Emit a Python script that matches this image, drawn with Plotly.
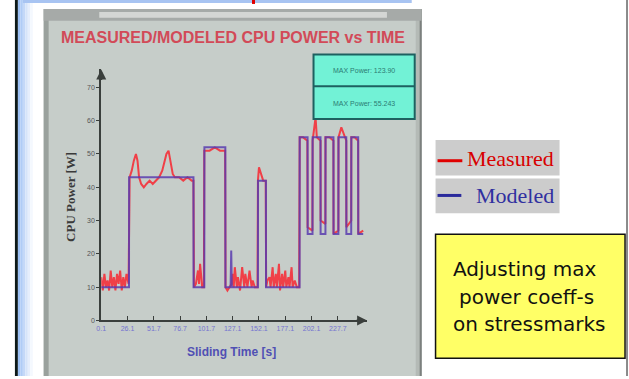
import plotly.graph_objects as go

W, H = 629, 379

# ---------------- data ----------------
measured_t = [0, 1.5, 3, 4.5, 6, 7.5, 9, 10.5, 12, 13.5, 15, 16.5, 18, 19.5, 21, 22.5, 24, 26,
              27, 29, 31, 33, 34.5, 36, 38, 40.5, 43, 46, 49, 52, 55, 58, 60, 62, 64, 66, 68, 70,
              74, 78, 82, 86, 87.7,
              88.2, 90, 92, 93, 94, 96, 97.6,
              98, 103, 108, 113, 117.8,
              118.2, 120, 122, 124, 125, 126, 127, 129, 130, 132, 134, 136, 137, 139, 141, 143, 144, 146, 148.6,
              149, 150, 151, 152.5, 154, 156.4,
              156.8, 158, 160, 161, 163, 164, 166, 167, 169, 170, 172, 173, 175, 176, 178, 179, 181, 182, 184, 186, 188.2,
              188.7, 192, 196, 196.2, 200.8, 201, 203.8, 205, 208.5, 208.6, 213.1, 213.2, 217, 220.8,
              220.9, 225.5, 225.6, 228.3, 233, 233.1, 237.7, 237.8, 241, 244.3, 244.4, 249.1]
measured_w = [13, 9, 14, 10, 12, 9, 15, 10, 13, 9, 14, 11, 15, 9, 13, 10, 14, 11,
              43, 45, 48, 50, 48, 43, 41, 40, 41, 42, 41, 42, 43, 45, 48, 50, 51, 48, 44, 43,
              43, 42, 43, 42, 42,
              10, 11, 15, 11, 17, 10, 10,
              51, 51, 52, 51, 51,
              10, 9, 10, 11, 14, 10, 16, 10, 13, 9, 16, 10, 14, 10, 15, 10, 12, 10, 10,
              42, 46, 45, 43, 42, 42,
              10, 12, 13, 10, 16, 10, 14, 10, 17, 9, 14, 10, 15, 10, 13, 10, 16, 10, 12, 10, 10,
              55, 55, 54, 28, 27, 54, 61, 55, 54, 30, 29, 55, 55, 54,
              26, 27, 55, 58, 54, 28, 30, 55, 55, 54, 26, 27]

modeled_t = [0, 26.4, 26.5, 87.7, 87.8, 98, 98.1, 118, 118.1, 123, 123.6, 124.2, 149, 149.1, 156.6, 156.7, 188.6,
             188.7, 196.2, 196.3, 200.9, 201, 208.5, 208.6, 213.2, 213.3, 220.8, 220.9, 225.5, 225.6,
             233, 233.1, 237.7, 237.8, 244.3, 244.4, 249.1]
modeled_w = [10, 10, 43, 43, 10, 10, 52, 52, 10, 10, 21, 10, 10, 42, 42, 10, 10,
             55, 55, 26, 26, 55, 55, 26, 26, 55, 55, 26, 26, 55,
             55, 26, 26, 55, 55, 26, 26]

x_tickvals = [0, 25, 50, 75, 100, 125, 150, 175, 200, 225]
x_ticktext = ["0.1", "26.1", "51.7", "76.7", "101.7", "127.1", "152.1", "177.1", "202.1", "227.7"]
y_tickvals = [0, 10, 20, 30, 40, 50, 60, 70]
y_ticktext = ["0", "10", "20", "30", "40", "50", "60", "70"]

# ---------------- helpers for pixel placement ----------------
def X(px):
    return px / W

def Y(py):
    return 1 - py / H

def rect(x0, y0, x1, y1, fill, line=None, lw=0):
    return dict(type="rect", xref="paper", yref="paper", x0=X(x0), x1=X(x1), y0=Y(y1), y1=Y(y0),
                fillcolor=fill, line=dict(color=line or fill, width=lw), layer="below")

def hline(x0, x1, y, color, w):
    return dict(type="line", xref="paper", yref="paper", x0=X(x0), x1=X(x1), y0=Y(y), y1=Y(y),
                line=dict(color=color, width=w))

def text(px, py, s, size, color, family="Liberation Sans", angle=0, xanchor="center"):
    return dict(xref="paper", yref="paper", x=X(px), y=Y(py), text=s, showarrow=False,
                font=dict(size=size, color=color, family=family), textangle=angle,
                xanchor=xanchor, yanchor="middle")

fig = go.Figure()
fig.add_trace(go.Scatter(x=measured_t, y=measured_w, mode="lines", name="Measured",
                         line=dict(color="#f04048", width=2)))
fig.add_trace(go.Scatter(x=modeled_t, y=modeled_w, mode="lines", name="Modeled",
                         line=dict(color="#5a3cb0", width=2), opacity=0.85))

shapes = []
# slide decorations
shapes.append(rect(10, 0, 13, 379, "#0c1818"))
blues = ["#9cc0f4", "#b0ccf6", "#c4d8f8", "#d6e4fa", "#e6eefc", "#f4f8fe"]
for i, c in enumerate(blues):
    shapes.append(rect(13 + i * 2.5, 0, 15.5 + i * 2.5, 379, c))
shapes.append(rect(18, 0, 410, 3, "#a8c4f2"))
shapes.append(rect(249, 0, 252, 4, "#e00000"))
shapes.append(rect(626, 0, 628, 379, "#8a8a8a"))
# embedded chart window
shapes.append(rect(39, 9, 420, 379, "#c6cdc9"))
shapes.append(rect(39, 9, 44, 379, "#9aa19d"))
shapes.append(rect(414, 9, 420, 379, "#b4bab6"))
shapes.append(rect(418, 9, 420, 379, "#7c807e"))
shapes.append(rect(39, 9, 420, 21, "#a6aaa8"))
shapes.append(rect(95, 12, 385, 18, "#d4d6d4"))
# cyan info box
shapes.append(dict(type="rect", xref="paper", yref="paper", x0=X(311), x1=X(413), y0=Y(120), y1=Y(55),
                   fillcolor="#72f2d6", line=dict(color="#1e6060", width=2), layer="above"))
shapes.append(hline(311, 413, 87, "#1e6060", 2))
# slide legend
shapes.append(rect(434, 141, 559, 177, "#cccccc"))
shapes.append(rect(434, 180, 559, 215, "#cccccc"))
shapes.append(hline(436, 461, 162, "#e00000", 3))
shapes.append(hline(436, 460, 197, "#2a2a9c", 3))
# yellow note
shapes.append(dict(type="rect", xref="paper", yref="paper", x0=X(434), x1=X(625), y0=Y(361), y1=Y(236),
                   fillcolor="#ffff66", line=dict(color="#111111", width=1.5), layer="below"))

annotations = [
    text(230, 38, "<b>MEASURED/MODELED CPU POWER vs TIME</b>", 16, "#d24a58"),
    text(362, 71, "MAX Power: 123.90", 7, "#2c7c74"),
    text(362, 104, "MAX Power: 55.243", 7, "#2c7c74"),
    text(66, 198, "<b>CPU Power [W]</b>", 13, "#3a3a3a", family="Liberation Serif", angle=-90),
    text(228, 355, "<b>Sliding Time [s]</b>", 12, "#5050b4"),
    text(464, 160, "Measured", 22, "#d80000", family="Liberation Serif", xanchor="left"),
    text(473, 197, "Modeled", 22, "#3030a0", family="Liberation Serif", xanchor="left"),
    text(524, 271, "Adjusting max", 20, "#111111", family="DejaVu Sans"),
    text(526, 299, "power coeff-s", 20, "#111111", family="DejaVu Sans"),
    text(528, 327, "on stressmarks", 20, "#111111", family="DejaVu Sans"),
    # axis arrowheads
    dict(x=0, y=75.4, xref="x", yref="y", ax=0, ay=12, text="", showarrow=True,
         arrowhead=2, arrowsize=1, arrowwidth=2, arrowcolor="#3a3f3c"),
    dict(x=252.8, y=0, xref="x", yref="y", ax=-12, ay=0, text="", showarrow=True,
         arrowhead=2, arrowsize=1, arrowwidth=2, arrowcolor="#3a3f3c"),
]

fig.update_layout(
    width=W, height=H, autosize=False,
    margin=dict(l=0, r=0, t=0, b=0),
    paper_bgcolor="white", plot_bgcolor="rgba(0,0,0,0)",
    showlegend=False,
    shapes=shapes, annotations=annotations,
    xaxis=dict(domain=[X(97), X(365)], range=[0, 252.8], showgrid=False, zeroline=False,
               showline=True, linecolor="#3a3f3c", linewidth=2,
               ticks="inside", ticklen=4, tickcolor="#3a3f3c",
               tickvals=x_tickvals, ticktext=x_ticktext,
               tickfont=dict(size=7, color="#7474d0", family="Liberation Sans")),
    yaxis=dict(domain=[Y(323), Y(70)], range=[0, 75.4], showgrid=False, zeroline=False,
               showline=True, linecolor="#3a3f3c", linewidth=2,
               ticks="outside", ticklen=3, tickcolor="#3a3f3c",
               tickvals=y_tickvals, ticktext=y_ticktext,
               tickfont=dict(size=7, color="#555555", family="Liberation Sans")),
)

fig.write_html("out.html")
